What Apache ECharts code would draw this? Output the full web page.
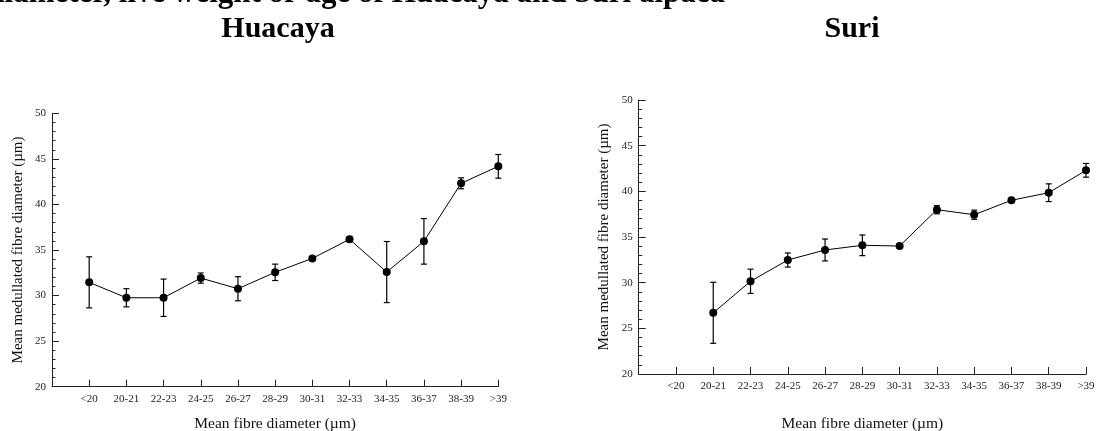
<!DOCTYPE html>
<html>
<head>
<meta charset="utf-8">
<script src="https://cdn.jsdelivr.net/npm/echarts@6/dist/echarts.min.js"></script>
<style>
  html, body { margin: 0; padding: 0; background: #fff; }
  #chart { width: 1096px; height: 431px; }
</style>
</head>
<body>
<div id="chart"></div>
<script>
// Fibre diameter classes (µm)
const categories = ['<20', '20-21', '22-23', '24-25', '26-27', '28-29', '30-31', '32-33', '34-35', '36-37', '38-39', '>39'];

// Huacaya: mean medullated fibre diameter (µm) and its standard error
const huacayaMean = [31.45, 29.76, 29.76, 31.92, 30.75, 32.55, 34.08, 36.17, 32.58, 35.95, 42.32, 44.18];
const huacayaSE   = [2.8, 1.0, 2.05, 0.56, 1.32, 0.9, 0.2, 0.25, 3.35, 2.5, 0.6, 1.3];

// Suri: no animals in the <20 class
const suriMean = [null, 26.7, 30.15, 32.48, 33.58, 34.09, 34.01, 37.99, 37.44, 39.02, 39.85, 42.3];
const suriSE   = [null, 3.34, 1.33, 0.77, 1.2, 1.13, 0.25, 0.45, 0.5, 0.15, 0.97, 0.75];

const yTicks = { min: 20, max: 50, interval: 5 };
const panelTitles = ['Huacaya', 'Suri'];
const headline = 'diameter, live weight or age of Huacaya and Suri alpaca';
const xName = 'Mean fibre diameter (\u00b5m)';
const yName = 'Mean medullated fibre diameter (\u00b5m)';

const FONT = '"Liberation Serif", "Times New Roman", serif';
const INK = '#111';

function points(means) {
  return means.map((m, i) => m == null ? null : [i + 1, m]).filter(Boolean);
}
function bars(means, ses) {
  return means.map((m, i) => m == null ? null : [i + 1, m - ses[i], m + ses[i]]).filter(Boolean);
}

function xAxis(gridIndex, nameGap) {
  return {
    type: 'value', gridIndex, min: 0, max: categories.length, interval: 1,
    name: xName, nameLocation: 'middle', nameGap,
    nameTextStyle: { fontFamily: FONT, fontSize: 15.5, color: INK },
    axisLine: { show: true, lineStyle: { color: '#222', width: 1 } },
    axisTick: { show: true, inside: true, length: 7, lineStyle: { color: '#222' } },
    axisLabel: {
      fontFamily: FONT, fontSize: 11, color: '#222', margin: 7,
      formatter: v => (v >= 1 && v <= categories.length) ? categories[v - 1] : ''
    },
    splitLine: { show: false }
  };
}
function yAxis(gridIndex, nameGap) {
  return {
    type: 'value', gridIndex, min: yTicks.min, max: yTicks.max, interval: yTicks.interval,
    name: yName, nameLocation: 'middle', nameGap,
    nameTextStyle: { fontFamily: FONT, fontSize: 15, color: INK },
    axisLine: { show: true, lineStyle: { color: '#222', width: 1 } },
    axisTick: { show: true, inside: true, length: 7, lineStyle: { color: '#222' } },
    minorTick: { show: true, splitNumber: 5, length: 3.5, lineStyle: { color: '#222' } },
    axisLabel: { fontFamily: FONT, fontSize: 11, color: '#222', margin: 6 },
    splitLine: { show: false }
  };
}

function errorBars(idx, data) {
  return {
    type: 'custom', xAxisIndex: idx, yAxisIndex: idx, z: 1,
    data,
    renderItem: (params, api) => {
      const x = api.value(0);
      const lo = api.coord([x, api.value(1)]);
      const hi = api.coord([x, api.value(2)]);
      const w = 3;
      const style = { stroke: '#000', lineWidth: 1.2 };
      return {
        type: 'group',
        children: [
          { type: 'line', shape: { x1: lo[0], y1: lo[1], x2: hi[0], y2: hi[1] }, style },
          { type: 'line', shape: { x1: hi[0] - w, y1: hi[1], x2: hi[0] + w, y2: hi[1] }, style },
          { type: 'line', shape: { x1: lo[0] - w, y1: lo[1], x2: lo[0] + w, y2: lo[1] }, style }
        ]
      };
    }
  };
}
function meanLine(idx, data) {
  return {
    type: 'line', xAxisIndex: idx, yAxisIndex: idx, z: 3,
    data, symbol: 'circle', symbolSize: 8,
    itemStyle: { color: '#000' },
    lineStyle: { color: '#000', width: 1 },
    animation: false
  };
}

const chart = echarts.init(document.getElementById('chart'), null, { renderer: 'canvas' });
chart.setOption({
  animation: false,
  backgroundColor: '#fff',
  grid: [
    { left: 52, top: 113.3, width: 446.3, height: 273.4, outerBoundsMode: 'none', containLabel: false },
    { left: 638.7, top: 100, width: 447.3, height: 274, outerBoundsMode: 'none', containLabel: false }
  ],
  xAxis: [xAxis(0, 29.5), xAxis(1, 42)],
  yAxis: [yAxis(0, 26), yAxis(1, 27)],
  graphic: [
    { type: 'text', x: 725, y: -6, style: { text: headline, font: 'bold 31px ' + FONT, fill: '#000', align: 'right', verticalAlign: 'middle' } },
    { type: 'text', x: 278, y: 29.5, style: { text: panelTitles[0], font: 'bold 30px ' + FONT, fill: '#000', align: 'center', verticalAlign: 'middle' } },
    { type: 'text', x: 852, y: 29.5, style: { text: panelTitles[1], font: 'bold 30px ' + FONT, fill: '#000', align: 'center', verticalAlign: 'middle' } }
  ],
  series: [
    errorBars(0, bars(huacayaMean, huacayaSE)),
    meanLine(0, points(huacayaMean)),
    errorBars(1, bars(suriMean, suriSE)),
    meanLine(1, points(suriMean))
  ]
});
</script>
</body>
</html>
